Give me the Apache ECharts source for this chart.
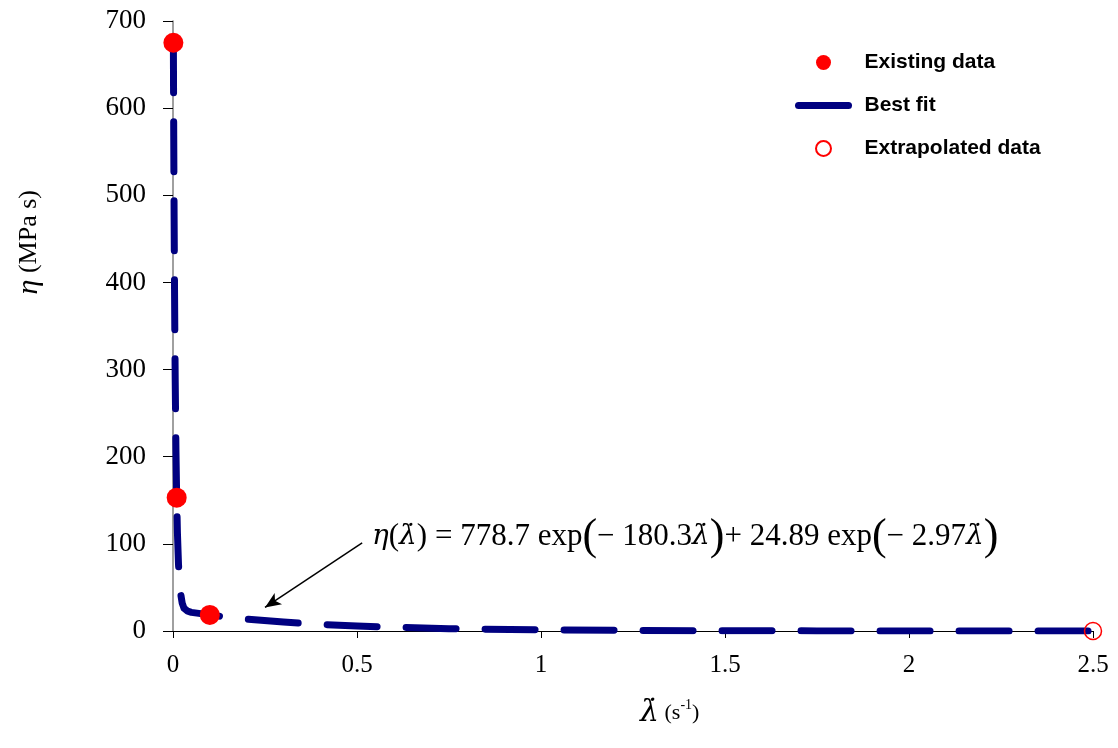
<!DOCTYPE html>
<html>
<head>
<meta charset="utf-8">
<title>Viscosity vs strain rate</title>
<script src="https://cdn.jsdelivr.net/npm/echarts@6/dist/echarts.min.js"></script>
<style>
  html, body { margin: 0; padding: 0; background: #fff; }
  #chart { width: 1118px; height: 748px; }
</style>
</head>
<body>
<div id="chart"></div>
<script>
// measured points
var existX = [0.001, 0.01, 0.1];
var existY = [675, 153, 18.5];
var extraX = [2.5];
var extraY = [0];

// best fit curve
var fitX = [0.001, 0.002, 0.003, 0.004, 0.005, 0.006, 0.008, 0.01, 0.012, 0.015,
            0.02, 0.025, 0.03, 0.04, 0.05, 0.07, 0.1, 0.15, 0.2, 0.3,
            0.4, 0.5, 0.75, 1, 1.25, 1.5, 1.75, 2, 2.25, 2.5];
var fitY = [675, 568, 478, 403, 341, 288, 208, 153, 113, 76,
            45, 32, 26, 22.7, 21.4, 20.2, 18.4, 15.9, 13.7, 10.2,
            7.6, 5.6, 2.7, 1.3, 0.6, 0.3, 0.14, 0.07, 0.03, 0.015];

var xTicks = [0, 0.5, 1, 1.5, 2, 2.5];

function pairs(xs, ys) {
    var out = [];
    for (var i = 0; i < xs.length; i++) out.push([xs[i], ys[i]]);
    return out;
}

var serif = '"Liberation Serif", "Times New Roman", serif';
var greek = '"DejaVu Serif", "Liberation Serif", serif';
var sans = '"Liberation Sans", Arial, sans-serif';

var myChart = echarts.init(document.getElementById('chart'));
var option = {
    backgroundColor: '#fff',
    animation: false,
    grid: { left: 173, right: 25, top: 21, bottom: 117 },
    legend: {
        orient: 'vertical',
        left: 790,
        top: 47,
        itemWidth: 50,
        itemHeight: 15,
        itemGap: 22,
        textStyle: { fontFamily: sans, fontWeight: 'bold', fontSize: 21, color: '#000', padding: [0, 0, 0, 11] },
        data: [
            'Existing data',
            {
                name: 'Best fit',
                itemStyle: { opacity: 0 },
                lineStyle: { width: 7, type: 'solid', cap: 'round', color: '#000080' }
            },
            'Extrapolated data'
        ]
    },
    xAxis: {
        type: 'value',
        min: 0,
        max: 2.5,
        interval: 0.5,
        splitLine: { show: false },
        axisLine: { onZero: false, lineStyle: { color: '#000', width: 1 } },
        axisTick: { inside: false, length: 7, lineStyle: { color: '#000' } },
        axisLabel: {
            margin: 22,
            fontFamily: serif,
            fontSize: 25,
            color: '#000',
            formatter: function (v) { return xTicks.indexOf(v) >= 0 ? String(v) : ''; }
        }
    },
    yAxis: {
        type: 'value',
        min: 0,
        max: 700,
        interval: 100,
        splitLine: { show: false },
        axisLine: { show: true, onZero: false, lineStyle: { color: '#808080', width: 1.5 } },
        axisTick: { show: true, inside: false, length: 10, lineStyle: { color: '#000' } },
        axisLabel: { margin: 27, fontFamily: serif, fontSize: 27, color: '#000' }
    },
    series: [
        {
            name: 'Best fit',
            type: 'line',
            data: pairs(fitX, fitY),
            symbol: 'none',
            smooth: false,
            z: 2,
            itemStyle: { color: '#000080' },
            lineStyle: { color: '#000080', width: 7, type: [50, 29], cap: 'round', join: 'round' },
            markLine: {
                silent: true,
                symbol: ['none', 'arrow'],
                symbolSize: [10, 16],
                label: { show: false },
                lineStyle: { color: '#000', width: 1.5, type: 'solid' },
                data: [[{ coord: [0.514, 101] }, { coord: [0.25, 27] }]]
            }
        },
        {
            name: 'Existing data',
            type: 'scatter',
            data: pairs(existX, existY),
            symbol: 'circle',
            symbolSize: 20,
            z: 4,
            itemStyle: { color: '#ff0000', opacity: 1 }
        },
        {
            name: 'Extrapolated data',
            type: 'scatter',
            data: pairs(extraX, extraY),
            symbol: 'circle',
            symbolSize: 17,
            clip: false,
            z: 4,
            itemStyle: { color: 'rgba(255,255,255,0)', borderColor: '#ff0000', borderWidth: 1.5, opacity: 1 }
        }
    ],
    graphic: [
        {
            type: 'text',
            left: 372,
            top: 515,
            style: {
                text: '{i|η}({i|λ\u0307}) = 778.7 exp{p|(}− 180.3{i|λ\u0307}{p|)}+ 24.89 exp{p|(}− 2.97{i|λ\u0307}{p|)}',
                font: '31px ' + serif,
                fill: '#000',
                rich: {
                    i: { fontFamily: greek, fontSize: 28, fontStyle: 'italic', fill: '#000' },
                    p: { fontFamily: serif, fontSize: 44, fill: '#000' }
                }
            }
        },
        {
            type: 'text',
            left: 14,
            top: 190,
            rotation: Math.PI / 2,
            style: {
                text: '{i|η} (MPa s)',
                font: '26px ' + serif,
                fill: '#000',
                rich: { i: { fontFamily: serif, fontSize: 30, fontStyle: 'italic', fill: '#000' } }
            }
        },
        {
            type: 'text',
            left: 640,
            top: 698,
            style: {
                text: '{i|λ\u0307} (s{s|-1})',
                font: '22px ' + serif,
                fill: '#000',
                rich: {
                    i: { fontFamily: greek, fontSize: 30, fontStyle: 'italic', fill: '#000' },
                    s: { fontFamily: serif, fontSize: 14, verticalAlign: 'top', padding: [0, 0, 10, 0], fill: '#000' }
                }
            }
        }
    ]
};
myChart.setOption(option);
</script>
</body>
</html>
